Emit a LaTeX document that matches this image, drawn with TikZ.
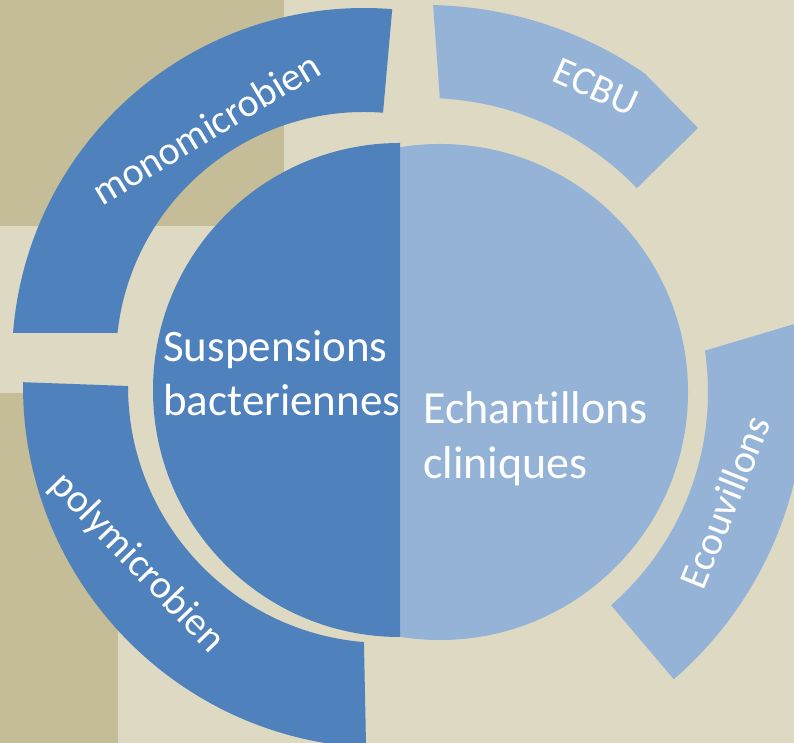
\documentclass[tikz,border=0pt]{standalone}
\usepackage{fontspec}
\setmainfont{Carlito}[Ligatures=NoCommon]
\usetikzlibrary{calc}
\definecolor{bacblue}{HTML}{4F81BD}
\definecolor{clinblue}{HTML}{95B3D7}
\definecolor{paper}{HTML}{DDD9C3}
\definecolor{khaki}{HTML}{C4BD97}
% ring piece: centre, outer (start:end:radius), inner (start:end:radius)
\def\ringpiece[#1](#2)(#3:#4:#5)(#6:#7:#8){\fill[#1] ($(#2)+(#3:#5)$) arc (#3:#4:#5) -- ($(#2)+(#6:#8)$) arc (#6:#7:#8) -- cycle;}
\tikzset{
	bigtext/.style={text=white, inner sep=0pt, align=left, font=\fontsize{45}{54}\selectfont},
	arclabel/.style={text=white, inner sep=0pt, font=\fontsize{40}{48}\selectfont}
}

\begin{document}
\begin{tikzpicture}[x=10pt, y=10pt]
			%%%%% BACKGROUND %%%%%
			\useasboundingbox (0, 0) rectangle (79.4, 74.3);
			\clip (0, 0) rectangle (79.4, 74.3);
			\fill[paper] (0, 0) rectangle (79.4, 74.3);
			\fill[khaki] (0, 51.7) rectangle (28.4, 74.3);
			\fill[khaki] (0, 0) rectangle (11.8, 35.0);
			
			%%%%% OUTER RING %%%%%
			\ringpiece[bacblue](36.4, 38.3)(175.6:85.4:35.2)(85.6:173.7:24.8);
			\ringpiece[bacblue](38.5, 35.7)(179.4:267:36.2)(265.3:180:25.7);
			\ringpiece[clinblue](42.5, 35.1)(10.5:-49.1:38.0)(-48.9:8.4:28.3);
			\fill[clinblue] ($(42.5, 35.1)+(88.8:38.7)$) arc (88.8:55.4:38.7) -- (69.8, 61.5)
				-- ($(42.5, 35.1)+(43.9:29.4)$) arc (43.9:87.1:29.4) -- cycle;
			
			%%%%% CENTRE %%%%%
			\begin{scope}
				\clip (40, 0) rectangle (79.4, 74.3);
				\fill[clinblue] (44.0, 35.1) circle (24.8);
			\end{scope}
			\fill[bacblue] (40, 60.0) arc (90:270:24.7) -- cycle;
			
			\node[bigtext, anchor=west] (susp) at (16.3, 36.95) {Suspensions\\bacteriennes};
			\node[bigtext, anchor=west, font=\fontsize{46}{55}\selectfont] (echant) at (42.3, 30.45) {Echantillons\\cliniques};
			
			%%%%% LABELS %%%%%
			\node[arclabel, rotate=31] (mono) at (20.6, 61.5) {monomicrobien};
			\node[arclabel, rotate=-24] (ecbu) at (59.6, 65.6) {ECBU};
			\node[arclabel, rotate=68] (ecouv) at (72.5, 24.1) {Ecouvillons};
			\node[arclabel, rotate=-46] (poly) at (13.7, 18.0) {polymicrobien};
			%%%%% END %%%%%
\end{tikzpicture}
\end{document}
